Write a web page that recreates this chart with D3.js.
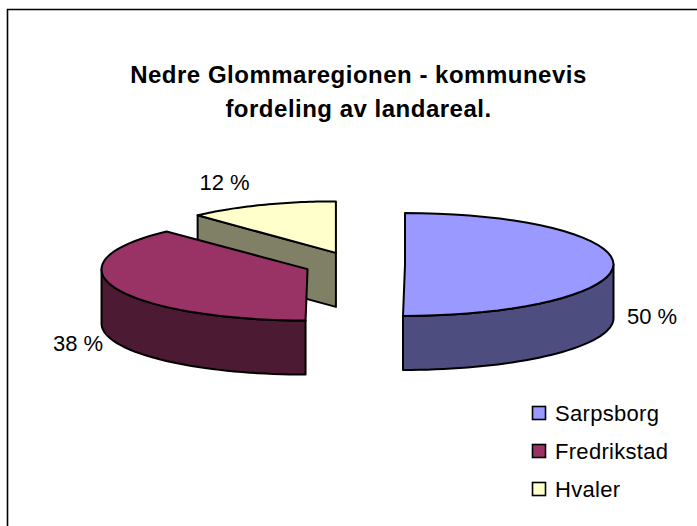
<!DOCTYPE html>
<html><head><meta charset="utf-8">
<script src="https://cdn.jsdelivr.net/npm/d3@7"></script>
<style>html,body{margin:0;padding:0;background:#fff;overflow:hidden}svg{display:block}text{font-family:"Liberation Sans",Arial,sans-serif;fill:#000}</style>
</head><body><svg id="c" width="697" height="526"></svg>
<script>
const categories = ["Sarpsborg","Fredrikstad","Hvaler"];
const values = [50,38,12];
const valueLabels = ["50 %","38 %","12 %"];
const topColors = ["#9999FF","#993366","#FFFFCC"];
const sideColors = ["#4D4D80","#4D1A33","#808066"];
const titleLines = ["Nedre Glommaregionen - kommunevis","fordeling av landareal."];

const cx=354.5,cy=264.5,ry=51.5,depth=54,explode=50.5,explodeY=12.5,tilt=2;
const radii=[208.5,206,202];
const svg=d3.select("#c");
svg.append("path").attr("d","M7.5,526V9.5H697").attr("fill","none").attr("stroke","#000").attr("stroke-width",1.6);

titleLines.forEach((t,i)=>svg.append("text").attr("x",358.5).attr("y",83+i*34)
  .attr("text-anchor","middle").attr("font-weight","bold").attr("font-size",24).attr("letter-spacing",0.5).text(t));

const arcs=d3.pie().sort(null).value(d=>d)(values);
const line=d3.line();
const pt=(c,a,r,dy=0)=>[c[0]+r*Math.sin(a)+tilt*Math.min(0,Math.cos(a)), c[1]-ry*Math.cos(a)+dy];
const centers=arcs.map(d=>{const m=(d.startAngle+d.endAngle)/2;
  return [cx+explode*Math.sin(m), cy-explodeY*Math.cos(m)];});
const samples=(a,b)=>d3.range(0,41).map(i=>a+(b-a)*i/40);

[2,1,0].forEach(i=>{
  const d=arcs[i],c=centers[i],r=radii[i],g=svg.append("g").attr("stroke","#000").attr("stroke-width",2).attr("stroke-linejoin","round");
  if(i===2){
    const p0=pt(c,d.startAngle,r);
    g.append("path").attr("fill",sideColors[i]).attr("d",line([p0,c,[c[0],c[1]+depth],[p0[0],p0[1]+depth]])+"Z");
  }
  const a0=Math.max(d.startAngle,Math.PI/2), a1=Math.min(d.endAngle,3*Math.PI/2);
  if(a1>a0){
    const top=samples(a0,a1).map(a=>pt(c,a,r));
    const bot=samples(a1,a0).map(a=>pt(c,a,r,depth));
    g.append("path").attr("fill",sideColors[i]).attr("d",line(top.concat(bot))+"Z");
  }
  const rim=samples(d.startAngle,d.endAngle).map(a=>pt(c,a,r));
  g.append("path").attr("fill",topColors[i]).attr("d",line([c].concat(rim))+"Z");
});

const labelPos=[[652,324],[78,351],[224.5,190]];
valueLabels.forEach((t,i)=>svg.append("text").attr("x",labelPos[i][0]).attr("y",labelPos[i][1])
  .attr("text-anchor","middle").attr("font-size",22).text(t));

const ly=d3.scalePoint().domain(categories).range([413,489]);
categories.forEach((n,i)=>{
  const y=ly(n);
  svg.append("rect").attr("x",532.5).attr("y",y-6.5).attr("width",13).attr("height",13)
    .attr("fill",topColors[i]).attr("stroke","#000").attr("stroke-width",1.6);
  svg.append("text").attr("x",555).attr("y",y+8).attr("font-size",22).attr("letter-spacing",0.3).text(n);
});
</script></body></html>
